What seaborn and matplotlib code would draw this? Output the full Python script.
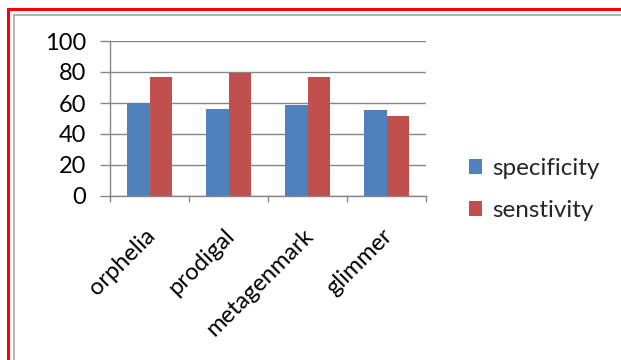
import matplotlib
matplotlib.use("Agg")
import matplotlib.pyplot as plt
import matplotlib.transforms as mtransforms
import seaborn as sns
import pandas as pd
from matplotlib.patches import Rectangle
from matplotlib.ticker import FixedLocator

categories = ["orphelia", "prodigal", "metagenmark", "glimmer"]
specificity = [60, 56, 58.7, 55.3]
senstivity = [76.7, 79.6, 76.7, 51.6]
series_names = ["specificity", "senstivity"]
yticks = [0, 20, 40, 60, 80, 100]

df = pd.DataFrame({
    "tool": categories * 2,
    "value": specificity + senstivity,
    "metric": [series_names[0]] * 4 + [series_names[1]] * 4,
})

sns.set_theme(style="white")
plt.rcParams["font.family"] = ["Lato", "DejaVu Sans"]

W, H = 621, 360
fig = plt.figure(figsize=(W / 100, H / 100), dpi=100)
ax = fig.add_axes([110 / W, 1 - 196 / H, (426 - 110) / W, (196 - 41) / H])

sns.barplot(data=df, x="tool", y="value", hue="metric", ax=ax,
            palette=["#4F81BD", "#C0504D"], width=2 / 3.5, gap=0,
            saturation=1, errorbar=None, linewidth=0)

ax.set_xlim(-0.5, 3.5)
ax.set_ylim(0, 100)
ax.set_yticks(yticks)
ax.set_xlabel("")
ax.set_ylabel("")
grid_c = "#868686"
ax.yaxis.grid(True, color=grid_c, linewidth=1)
ax.set_axisbelow(True)
for s in ["top", "right"]:
    ax.spines[s].set_visible(False)
for s in ["left", "bottom"]:
    ax.spines[s].set_color(grid_c)
    ax.spines[s].set_linewidth(1)

ax.tick_params(axis="y", which="major", length=7.2, color=grid_c, width=1,
               left=True, pad=10, labelsize=17, labelcolor="black")
ax.tick_params(axis="x", which="major", length=0, pad=21, labelsize=17,
               labelcolor="black")
ax.xaxis.set_minor_locator(FixedLocator([-0.5, 0.5, 1.5, 2.5, 3.5]))
ax.tick_params(axis="x", which="minor", length=4, color=grid_c, width=1,
               bottom=True)
shift = mtransforms.ScaledTranslation(-5 / 100, 0, fig.dpi_scale_trans)
for lab in ax.get_xticklabels():
    lab.set_rotation(45)
    lab.set_ha("right")
    lab.set_va("top")
    lab.set_rotation_mode("anchor")
    lab.set_transform(lab.get_transform() + shift)

handles, labels = ax.get_legend_handles_labels()
ax.legend(handles, labels, loc="center left",
          bbox_to_anchor=(469 / W, 1 - 189.5 / H), bbox_transform=fig.transFigure,
          frameon=False, fontsize=17.5, handlelength=0.55, handleheight=0.55,
          handletextpad=0.4, labelspacing=0.85, borderaxespad=0, borderpad=0)

# outer red frame and inner gray frame (top and left visible)
fig.add_artist(Rectangle((8 / W, -0.1), 1.1, (H - 9) / H + 0.1,
                         transform=fig.transFigure, fill=False,
                         edgecolor="#FF0000", linewidth=2.2))
fig.add_artist(Rectangle((13.5 / W, -0.1), 1.1, (H - 14.5) / H + 0.1,
                         transform=fig.transFigure, fill=False,
                         edgecolor="#A6A6A6", linewidth=1.2))

fig.savefig("out.png", dpi=100)
